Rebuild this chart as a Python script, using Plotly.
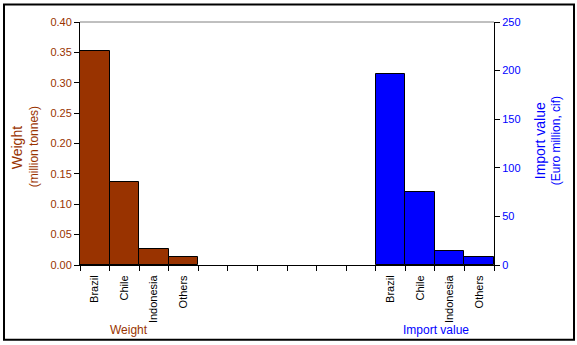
import plotly.graph_objects as go

# Trade figures by origin country
countries = ["Brazil", "Chile", "Indonesia", "Others"]
weight_mt = [0.352, 0.136, 0.027, 0.014]        # million tonnes
import_value = [197, 75, 14, 8]                 # Euro million, cif

# Slot layout along the shared category axis: weight group, gap, value group
weight_slots = [0, 1, 2, 3]
value_slots = [10, 11, 12, 13]
n_slots = 14

BROWN = "#993300"
BLUE = "#0000FF"
FONT = "Arial, Liberation Sans, sans-serif"

# plot-area geometry in pixels, used to place free text in paper units
L, R, T, B = 80, 494, 21.5, 265


def px_x(x):
    return (x - L) / (R - L)


def px_y(y):
    return (B - y) / (B - T)


fig = go.Figure()
fig.add_trace(go.Bar(
    x=weight_slots, y=weight_mt, width=1, yaxis="y",
    marker=dict(color=BROWN, line=dict(color="black", width=1)),
    name="Weight", showlegend=False,
))
fig.add_trace(go.Bar(
    x=value_slots, y=import_value, width=1, yaxis="y2",
    marker=dict(color=BLUE, line=dict(color="black", width=1)),
    name="Import value", showlegend=False,
))

fig.update_layout(
    width=577, height=345,
    margin=dict(l=L, r=577 - R, t=T, b=345 - B),
    paper_bgcolor="white", plot_bgcolor="white",
    barmode="overlay", bargap=0,
    font=dict(family=FONT, size=11, color="black"),
    xaxis=dict(
        range=[-0.5, n_slots - 0.5],
        tickvals=weight_slots + value_slots,
        ticktext=countries + countries,
        tickangle=-90, ticks="", ticklabelstandoff=5,
        showgrid=False, zeroline=False,
        showline=True, linecolor="black", linewidth=1,
        tickfont=dict(size=11, color="black", family=FONT),
        minor=dict(tickvals=[i - 0.5 for i in range(n_slots + 1)],
                   ticks="outside", ticklen=5, tickcolor="black", tickwidth=1,
                   showgrid=False),
        fixedrange=True,
    ),
    yaxis=dict(
        range=[0, 0.40], dtick=0.05, tickformat=".2f",
        showgrid=False, zeroline=False,
        showline=True, linecolor="black", linewidth=1,
        ticks="outside", ticklen=5, tickcolor="black",
        tickfont=dict(size=11, color=BROWN, family=FONT),
    ),
    yaxis2=dict(
        range=[0, 250], dtick=50, overlaying="y", side="right",
        showgrid=False, zeroline=False,
        showline=True, linecolor="black", linewidth=1,
        ticks="outside", ticklen=5, tickcolor="black",
        tickfont=dict(size=11, color=BLUE, family=FONT),
    ),
)

# Top boundary line of the plot area
fig.add_shape(type="line", xref="paper", yref="paper", x0=0, x1=1, y0=1, y1=1,
              line=dict(color="#808080", width=1))
# Outer frame around the whole chart
fig.add_shape(type="rect", xref="paper", yref="paper",
              x0=px_x(4), x1=px_x(574), y0=px_y(340), y1=px_y(4),
              line=dict(color="black", width=2), fillcolor="rgba(0,0,0,0)",
              layer="above")


def label(x, y, text, size, color):
    fig.add_annotation(xref="paper", yref="paper", x=px_x(x), y=px_y(y),
                       xanchor="center", yanchor="middle", text=text,
                       showarrow=False, font=dict(size=size, color=color, family=FONT))


def vlabel(x, y, text, size, color):
    fig.add_annotation(xref="paper", yref="paper", x=px_x(x), y=px_y(y),
                       xanchor="center", yanchor="middle", text=text, textangle=-90,
                       showarrow=False, font=dict(size=size, color=color, family=FONT))


# Axis titles
vlabel(17, 147, "Weight", 14, BROWN)
vlabel(34, 147, "(million tonnes)", 12, BROWN)
vlabel(540, 141, "Import value", 14, BLUE)
vlabel(556, 141, "(Euro million, cif)", 12, BLUE)

# Group labels beneath the category names
label(128.5, 330, "Weight", 12, BROWN)
label(435.5, 330, "Import value", 12, BLUE)

fig.write_html("out.html")
